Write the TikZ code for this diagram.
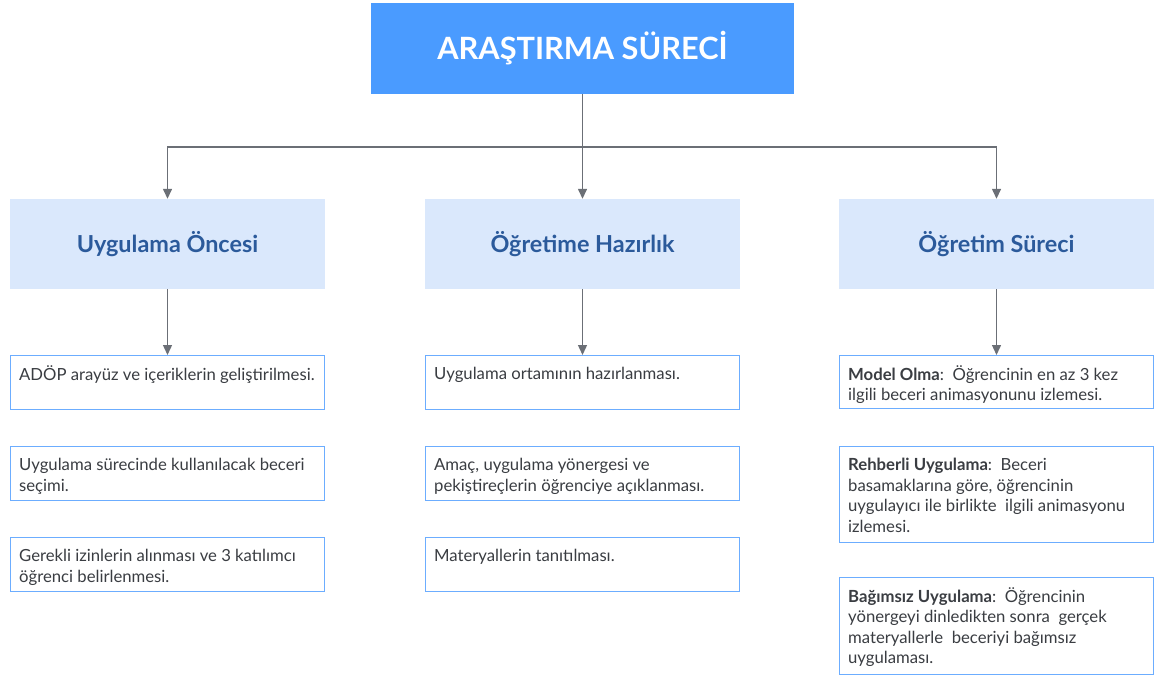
\documentclass[tikz,border=0pt]{standalone}
\usepackage{fontspec}
\setmainfont{Lato}
\usetikzlibrary{arrows.meta,positioning}

\definecolor{titleblue}{HTML}{4A9BFF}
\definecolor{headfill}{HTML}{DAE8FC}
\definecolor{headtext}{HTML}{2B5A9B}
\definecolor{stepline}{HTML}{6CADFF}
\definecolor{steptext}{HTML}{3A3D42}
\definecolor{connline}{HTML}{6B6F76}

\tikzset{
  titlebox/.style={fill=titleblue, text=white, minimum width=423pt, minimum height=91pt,
    font=\fontsize{30.7}{36}\selectfont\bfseries},
  headbox/.style={fill=headfill, text=headtext, minimum width=315pt, minimum height=90pt,
    font=\fontsize{23.4}{28}\selectfont\bfseries},
  stepbox/.style={draw=stepline, line width=1.3pt, fill=white, text=steptext, anchor=north west,
    inner xsep=8.5pt, inner ysep=9.5pt, font=\fontsize{16.7}{20.5}\selectfont},
  conn/.style={draw=connline, line width=1.4pt, -{Triangle[length=10pt,width=9pt]}},
}
% fixed height text block for the step boxes
\newcommand{\steptext}[2]{\parbox[t][#1][t]{297pt}{\raggedright\strut #2}}

\begin{document}
\begin{tikzpicture}[x=1pt,y=-1pt]
  \useasboundingbox (0,0) rectangle (1155,677);
  % Title
  \node[titlebox] (title) at (582.5,48.5) {ARAŞTIRMA SÜRECİ};
  \coordinate (split) at (582.5,147);
  % Phases
  \node[headbox] (pre) at (167.5,244) {Uygulama Öncesi};
  \node[headbox] (prep) at (582.5,244) {Öğretime Hazırlık};
  \node[headbox] (teach) at (996.5,244) {Öğretim Süreci};
  \draw[conn,-] (title.south) -- (split);
  \draw[conn] (split) -| (pre.north);
  \draw[conn] (split) -- (prep.north);
  \draw[conn] (split) -| (teach.north);
  % Uygulama Oncesi
  \node[stepbox] (pre1) at (10,355) {\steptext{35pt}{ADÖP arayüz ve içeriklerin geliştirilmesi.}};
  \node[stepbox] (pre2) at (10,446) {\steptext{35pt}{Uygulama sürecinde kullanılacak beceri\\ seçimi.}};
  \node[stepbox] (pre3) at (10,537) {\steptext{35pt}{Gerekli izinlerin alınması ve 3 katılımcı\\ öğrenci belirlenmesi.}};
  % Ogretime Hazirlik
  \node[stepbox] (prep1) at (425,355) {\steptext{35pt}{Uygulama ortamının hazırlanması.}};
  \node[stepbox] (prep2) at (425,446) {\steptext{35pt}{Amaç, uygulama yönergesi ve\\ pekiştireçlerin öğrenciye açıklanması.}};
  \node[stepbox] (prep3) at (425,537) {\steptext{35pt}{Materyallerin tanıtılması.}};
  % Ogretim Sureci
  \node[stepbox] (teach1) at (839,355) {\steptext{34pt}{\textbf{Model Olma}:\ \ Öğrencinin en az 3 kez\\ ilgili beceri animasyonunu izlemesi.}};
  \node[stepbox] (teach2) at (839,446) {\steptext{77pt}{\textbf{Rehberli Uygulama}:\ \ Beceri\\ basamaklarına göre, öğrencinin\\ uygulayıcı ile birlikte\ \ ilgili animasyonu\\ izlemesi.}};
  \node[stepbox] (teach3) at (839,577) {\steptext{78pt}{\textbf{Bağımsız Uygulama}:\ \ Öğrencinin\\ yönergeyi dinledikten sonra\ \ gerçek\\ materyallerle\ \ beceriyi bağımsız\\ uygulaması.}};
  \draw[conn] (pre.south) -- (pre1.north -| pre.south);
  \draw[conn] (prep.south) -- (prep1.north -| prep.south);
  \draw[conn] (teach.south) -- (teach1.north -| teach.south);
\end{tikzpicture}
\end{document}
